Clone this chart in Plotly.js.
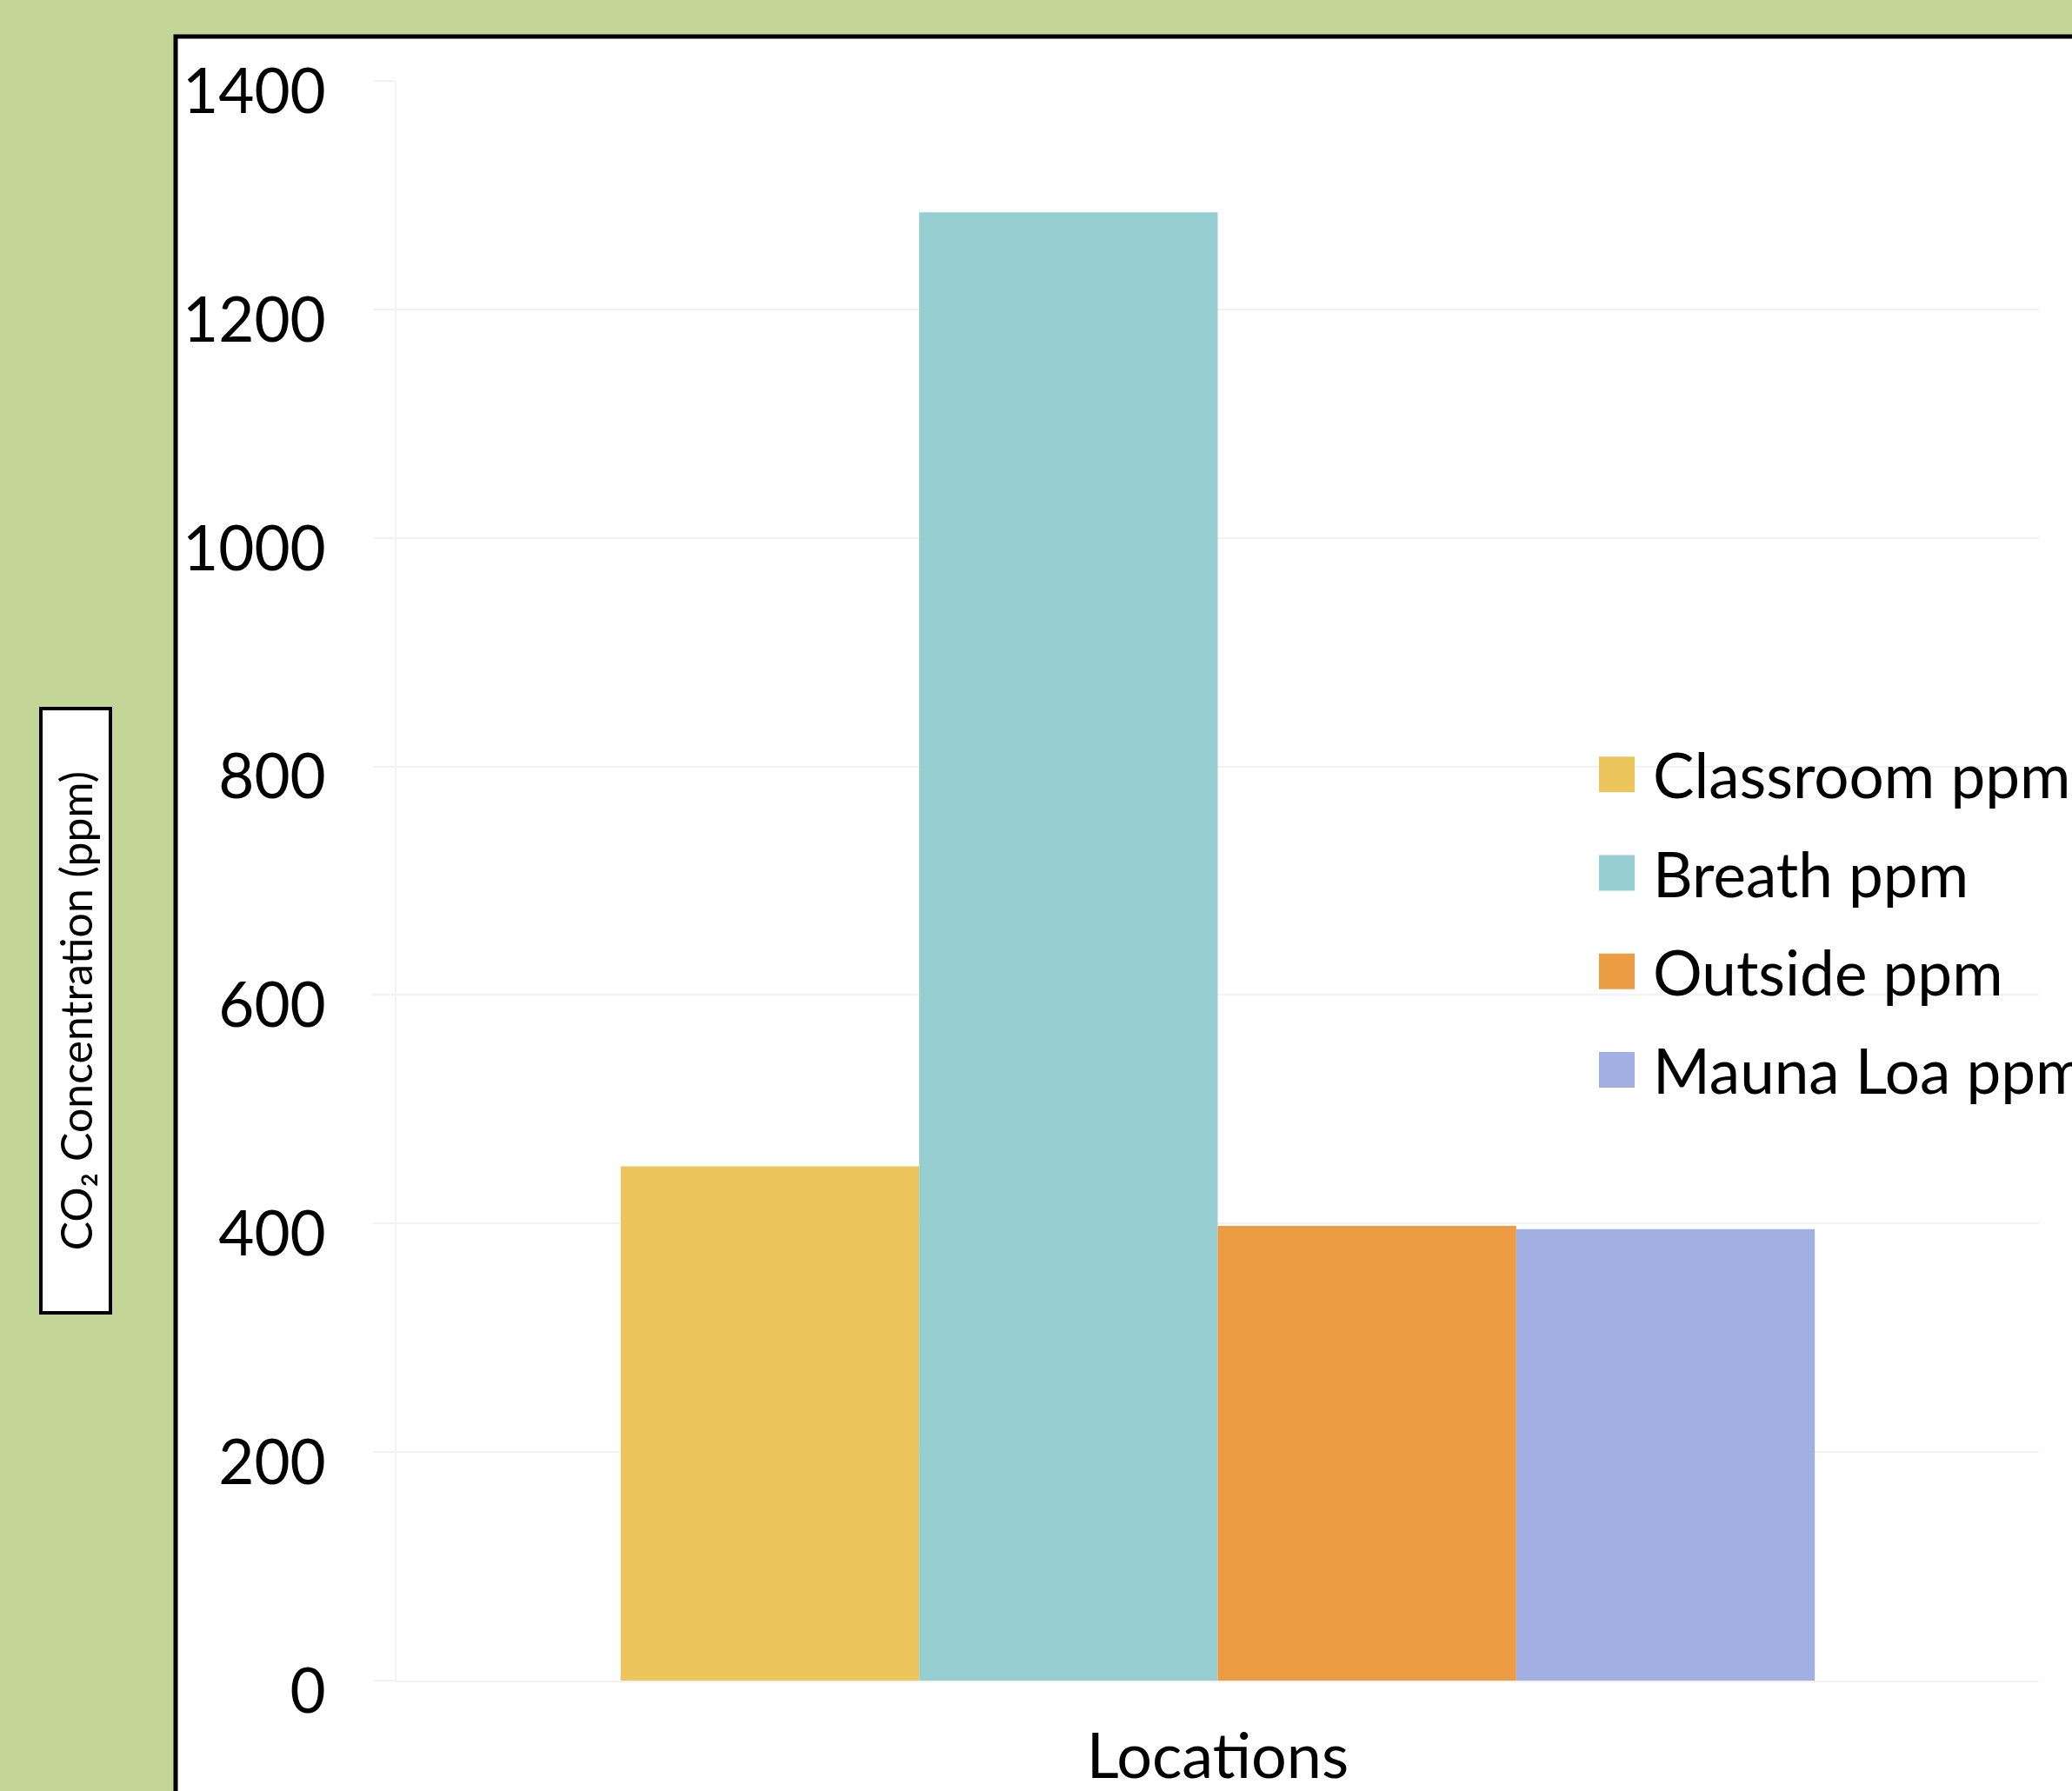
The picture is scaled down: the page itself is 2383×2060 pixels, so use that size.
<!DOCTYPE html>
<html>
<head>
<meta charset="utf-8">
<script src="https://cdn.plot.ly/plotly-3.0.1.min.js"></script>
<style>
  html, body { margin: 0; padding: 0; background: #c4d598; }
  #chart { width: 2383px; height: 2060px; }
</style>
</head>
<body>
<div id="chart"></div>
<script>
// ---- data ----
const categories = ['Locations'];
const seriesNames = ['Classroom ppm', 'Breath ppm', 'Outside ppm', 'Mauna Loa ppm'];
const classroomPpm = [450];
const breathPpm = [1285];
const outsidePpm = [398];
const maunaLoaPpm = [395];
const yTickValues = [0, 200, 400, 600, 800, 1000, 1200, 1400];
const yAxisTitle = 'CO₂ Concentration (ppm)';
const xAxisTitle = 'Locations';

// ---- style ----
const seriesColors = ['#ecc65c', '#95cdd1', '#ec9d44', '#a2afe3'];
const seriesValues = [classroomPpm, breathPpm, outsidePpm, maunaLoaPpm];

const W = 2383, H = 2060;
const L = 456, R = 38, T = 93, B = 127;
const pw = W - L - R, ph = H - T - B;
const pxX = px => (px - L) / pw;
const pxY = py => (H - B - py) / ph;
const FONT = 'Lato, "Open Sans", "Noto Sans", sans-serif';

const data = seriesNames.map((name, i) => ({
  type: 'bar',
  name: name,
  x: categories,
  y: seriesValues[i],
  marker: { color: seriesColors[i], line: { width: 0 } },
  legendgroup: 'g' + i,
  hoverinfo: 'skip'
}));

const layout = {
  width: W, height: H,
  margin: { l: L, r: R, t: T, b: B, pad: 0, autoexpand: false },
  paper_bgcolor: '#c4d598',
  plot_bgcolor: '#ffffff',
  font: { family: FONT, color: '#000000' },
  barmode: 'group',
  bargap: 0.273,
  bargroupgap: 0,
  showlegend: true,
  legend: {
    x: pxX(1839), y: pxY(838), xanchor: 'left', yanchor: 'top',
    bgcolor: 'rgba(0,0,0,0)', borderwidth: 0,
    font: { family: FONT, size: 71, color: '#000000' },
    traceorder: 'grouped', tracegroupgap: 18
  },
  xaxis: {
    type: 'category',
    showticklabels: false, ticks: '',
    showgrid: false, zeroline: false,
    showline: true, linecolor: '#f2f2f2', linewidth: 2,
    automargin: true,
    title: { text: xAxisTitle, standoff: 97, font: { family: FONT, size: 72, color: '#000000' } },
    fixedrange: true
  },
  yaxis: {
    range: [0, 1400],
    tickmode: 'array', tickvals: yTickValues,
    ticks: 'outside', ticklen: 25, tickcolor: '#f2f2f2', tickwidth: 2,
    showgrid: true, gridcolor: '#f2f2f2', gridwidth: 2,
    showline: true, linecolor: '#f2f2f2', linewidth: 2,
    zeroline: false,
    tickfont: { family: FONT, size: 71, color: '#000000' },
    ticklabelstandoff: 40,
    ticklabelshift: 12,
    automargin: false,
    fixedrange: true
  },
  shapes: [{
    type: 'rect', xref: 'paper', yref: 'paper',
    x0: pxX(202), x1: pxX(2460), y0: pxY(2160), y1: pxY(42),
    fillcolor: '#ffffff', line: { color: '#000000', width: 5 }, layer: 'below'
  }],
  annotations: [{
    xref: 'paper', yref: 'paper',
    x: pxX(87), y: pxY(1163), xanchor: 'center', yanchor: 'middle',
    text: yAxisTitle, textangle: -90, showarrow: false,
    font: { family: FONT, size: 50, color: '#000000' },
    bgcolor: '#ffffff', bordercolor: '#000000', borderwidth: 4, borderpad: 0,
    width: 691, height: 76
  }]
};

Plotly.newPlot('chart', data, layout, { staticPlot: true, displayModeBar: false }).then(gd => {
  const sym = 41, gap = 21;
  gd.querySelectorAll('.legend .traces').forEach(tr => {
    tr.querySelectorAll('.legendpoints path').forEach(p => {
      p.setAttribute('d', 'M' + sym + ',' + (sym / 2) + 'H0V' + (-sym / 2) + 'H' + sym + 'Z');
      p.setAttribute('transform', 'translate(0,0)');
    });
    const txt = tr.querySelector('text.legendtext');
    if (txt) {
      const nx = sym + gap;
      txt.setAttribute('x', nx);
      txt.querySelectorAll('tspan').forEach(ts => { if (ts.hasAttribute('x')) ts.setAttribute('x', nx); });
    }
  });
  gd.querySelectorAll('.legend .scrollbox').forEach(s => s.removeAttribute('clip-path'));
});
</script>
</body>
</html>
